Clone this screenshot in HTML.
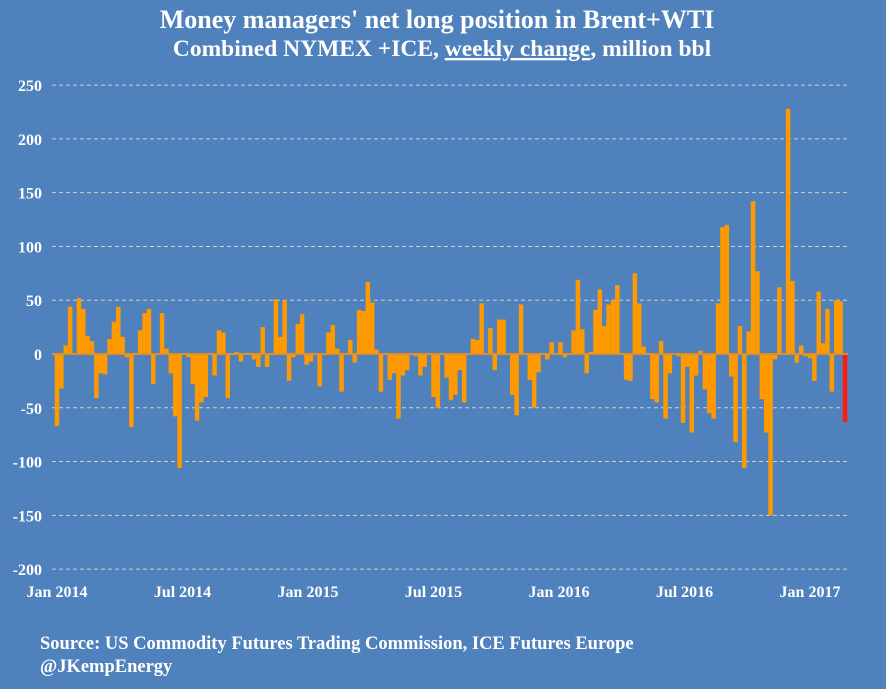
<!DOCTYPE html>
<html><head><meta charset="utf-8"><style>
body{margin:0;background:#4f81bd;}
svg{display:block;font-family:"Liberation Serif",serif;}
</style></head><body>
<svg id="c" width="886" height="689">
<rect width="886" height="689" fill="#4f81bd"/>
<text x="437" y="28" text-anchor="middle" fill="#fff" font-size="26" font-weight="bold">Money managers' net long position in  Brent+WTI</text>
<text x="442" y="56" text-anchor="middle" fill="#fff" font-size="23.5" font-weight="bold">Combined NYMEX +ICE, <tspan text-decoration="underline">weekly change</tspan>, million bbl</text>
<g id="grid"></g><g id="bars"></g><g id="ylab"></g><g id="xlab"></g>
<text x="40" y="649" fill="#fff" font-size="18.5" font-weight="bold">Source: US Commodity Futures Trading Commission, ICE Futures Europe</text>
<text x="40" y="672" fill="#fff" font-size="18.5" font-weight="bold">@JKempEnergy</text>
</svg>
<script>
const values=[-67,-32,8,44,0,52,42,17,12,-41,-18,-19,14,30,44,16,-3,-68,0,22,38,42,-28,0,38,5,-18,-58,-106,0,-3,-28,-62,-45,-40,0,-20,22,20,-41,0,2,-7,0,0,-5,-12,25,-12,0,51,16,50,-25,-3,28,37,-10,-7,0,-30,0,20,27,5,-35,0,13,-8,41,40,67,48,4,-35,0,-24,-18,-60,-20,-15,0,-2,-20,-12,0,-40,-50,0,-22,-43,-38,-15,-45,0,14,13,47,0,24,-15,32,32,0,-38,-57,46,0,-24,-50,-17,0,-5,11,0,11,-3,0,22,69,23,-18,2,41,60,26,46,50,64,0,-24,-25,75,47,7,0,-42,-45,12,-60,-18,0,-2,-64,-12,-73,-20,3,-33,-55,-60,47,118,120,-21,-82,26,-106,21,142,77,-42,-73,-150,-5,62,0,228,68,-8,8,-2,-4,-25,58,10,42,-35,50,49,-63];
const yTicks=[250,200,150,100,50,0,-50,-100,-150,-200];
const xTickLabels=["Jan 2014","Jul 2014","Jan 2015","Jul 2015","Jan 2016","Jul 2016","Jan 2017"];
const xTickFrac=[0,0.5,1,1.5,2,2.5,3];
const NS="http://www.w3.org/2000/svg";
const y0=354,ppu=1.0756;
function y(v){return y0-v*ppu;}
const x0=57,x1=845;
const step=(x1-x0)/(values.length-1);
function x(i){return x0+i*step;}
function xYear(f){return 57+f*251;}
const grid=document.getElementById('grid'),bars=document.getElementById('bars'),yl=document.getElementById('ylab'),xl=document.getElementById('xlab');
yTicks.forEach(t=>{
 if(t!==0){const l=document.createElementNS(NS,'line');
 
 
 l.setAttribute('x1',52);l.setAttribute('x2',848);l.setAttribute('y1',y(t));l.setAttribute('y2',y(t));
 l.setAttribute('stroke','#d0d0d0');l.setAttribute('stroke-dasharray','4,3');grid.appendChild(l);}
 const tx=document.createElementNS(NS,'text');
 
 
 tx.setAttribute('x',42);tx.setAttribute('y',y(t)+6);tx.setAttribute('text-anchor','end');tx.setAttribute('fill','#fff');tx.setAttribute('font-size','16');tx.setAttribute('font-weight','bold');
 tx.textContent=t;yl.appendChild(tx);
});
values.forEach((v,i)=>{
 const r=document.createElementNS(NS,'rect');
 
 
 const w=step*1.02;
 r.setAttribute('x',x(i)-w/2);r.setAttribute('width',w);
 r.setAttribute('y',Math.min(y(v),y0));r.setAttribute('height',Math.max(Math.abs(v)*ppu,1));
 r.setAttribute('fill',i===values.length-1?'#ff1a0a':'#ff9900');bars.appendChild(r);
});
const ax=document.createElementNS(NS,'line');


ax.setAttribute('x1',52);ax.setAttribute('x2',848);ax.setAttribute('y1',y0);ax.setAttribute('y2',y0);ax.setAttribute('stroke','#e0902a');ax.setAttribute('stroke-width','2');
bars.appendChild(ax);
xTickLabels.forEach((lab,k)=>{
 const tx=document.createElementNS(NS,'text');
 
 
 tx.setAttribute('x',xYear(xTickFrac[k]));tx.setAttribute('y',597);tx.setAttribute('text-anchor','middle');tx.setAttribute('fill','#fff');tx.setAttribute('font-size','16');tx.setAttribute('font-weight','bold');
 tx.textContent=lab;xl.appendChild(tx);
});
</script>
</body></html>
